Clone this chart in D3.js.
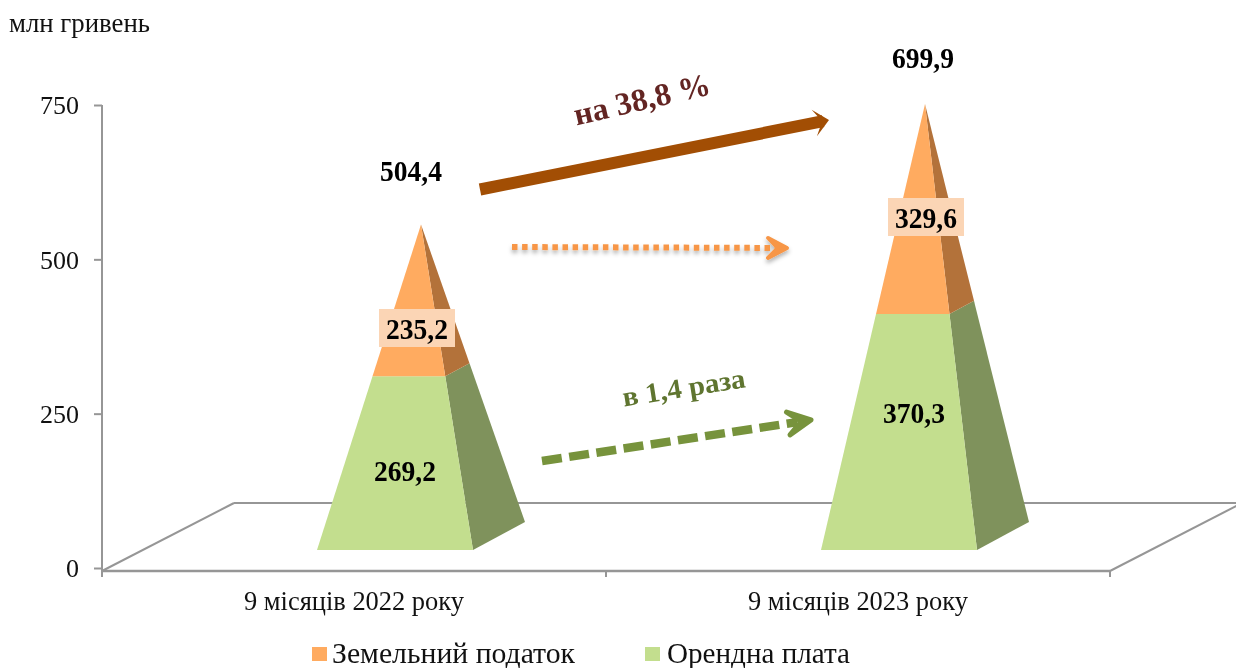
<!DOCTYPE html>
<html><head><meta charset="utf-8">
<script src="https://cdn.jsdelivr.net/npm/d3@7"></script>
<style>
html,body{margin:0;padding:0;background:#fff;}
svg{display:block;font-family:"Liberation Serif",serif;filter:blur(0.45px);}
</style></head><body><div id="c"></div>
<script>
const categories = ["9 місяців 2022 року","9 місяців 2023 року"];
const orendaValues = [269.2,370.3];
const zemelnyiValues = [235.2,329.6];
const totals = [504.4,699.9];
const yTicks = [0,250,500,750];
const seriesNames = ["Земельний податок","Орендна плата"];
const decimal = v => String(v.toFixed(1)).replace(".",",");

const W=1236,H=668;
const svg=d3.select("#c").append("svg").attr("width",W).attr("height",H);
const defs=svg.append("defs");
const f=defs.append("filter").attr("id","sh").attr("x","-10%").attr("y","-50%").attr("width","120%").attr("height","250%");
f.append("feDropShadow").attr("dx",0).attr("dy",3).attr("stdDeviation",2).attr("flood-color","#000").attr("flood-opacity",.3);

const x=d3.scaleBand().domain(categories).range([102,1110]);
const y=d3.scaleLinear().domain([0,750]).range([568,105]);
const grey="#969696";

// floor
const depthX=132, depthY=68, axisY=571;
const wall=svg.append("g").attr("fill","none").attr("stroke",grey);
wall.append("path").attr("stroke-width",2.2).attr("d",`M${x.range()[0]+depthX},${axisY-depthY}H${W}`);
wall.append("path").attr("stroke-width",2).attr("d",`M${x.range()[0]},${axisY}L${x.range()[0]+depthX},${axisY-depthY}`);
wall.append("path").attr("stroke-width",2).attr("d",`M${x.range()[1]},${axisY}L${x.range()[1]+depthX},${axisY-depthY}`);
wall.append("path").attr("stroke-width",2.4).attr("d",`M${x.range()[0]},${axisY}H${x.range()[1]}`);

// y axis
const yAxis=d3.axisLeft(y).tickValues(yTicks).tickSize(8).tickPadding(15).tickSizeOuter(0);
const gy=svg.append("g").attr("transform","translate(102,0)").call(yAxis);
gy.select(".domain").attr("stroke",grey).attr("stroke-width",2).attr("d",`M0,${y(750)}V${axisY+6}`);
gy.selectAll(".tick line").attr("stroke",grey).attr("stroke-width",2);
gy.selectAll("text").attr("font-size",26).attr("fill","#111").attr("font-family","Liberation Serif").attr("dy","0.34em");

// x axis
const xTickPos=[...categories.map(c=>x(c)),x.range()[1]];
svg.append("g").selectAll("line").data(xTickPos.slice(1)).join("line")
 .attr("x1",d=>d).attr("x2",d=>d).attr("y1",axisY).attr("y2",axisY+6).attr("stroke",grey).attr("stroke-width",2);
svg.append("g").selectAll("text").data(categories).join("text")
 .attr("x",c=>x(c)+x.bandwidth()/2).attr("y",610).attr("text-anchor","middle")
 .attr("font-size",27).attr("fill","#111").attr("textLength",220).attr("lengthAdjust","spacingAndGlyphs").text(c=>c);

// pyramids
const colors={orenda:{front:"#C3DE8E",side:"#7F925C"},zem:{front:"#FFAB60",side:"#B3723A"}};
const floorUp=32, halfW=104, halfD=14, skew=52;
const py=v=>y(v)-y(0);
function corners(cx,total,v){
  const s=1-v/total, cy=y(0)-floorUp+py(v);
  const X=d=>cx+d*s, Y=d=>cy+d*s;
  return {fl:[X(-halfW),Y(halfD)],fr:[X(skew),Y(halfD)],br:[X(halfW),Y(-halfD)]};
}
const path=pts=>"M"+pts.map(p=>p.join(",")).join("L")+"Z";
categories.forEach((c,i)=>{
  const cx=x(c)+x.bandwidth()/2+67, T=totals[i];
  const g=svg.append("g");
  const a=corners(cx,T,0), b=corners(cx,T,orendaValues[i]), t=corners(cx,T,T);
  g.append("path").attr("d",path([a.fr,a.br,b.br,b.fr])).attr("fill",colors.orenda.side);
  g.append("path").attr("d",path([a.fl,a.fr,b.fr,b.fl])).attr("fill",colors.orenda.front);
  g.append("path").attr("d",path([b.fr,b.br,t.br])).attr("fill",colors.zem.side);
  g.append("path").attr("d",path([b.fl,b.fr,t.fr])).attr("fill",colors.zem.front);
});

// value labels
const labelOffsets=[{tot:[-10,181],or:[-16,481],ze:[-4,339]},{tot:[-2,68],or:[-11,423],ze:[1,228]}];
categories.forEach((c,i)=>{
  const cx=x(c)+x.bandwidth()/2+67, o=labelOffsets[i];
  const lab=(off,v)=>svg.append("text").attr("x",cx+off[0]).attr("y",off[1]).attr("text-anchor","middle")
    .attr("font-size",29).attr("font-weight","bold").attr("fill","#000")
    .attr("textLength",62).attr("lengthAdjust","spacingAndGlyphs").text(decimal(v));
  lab(o.tot,totals[i]);
  lab(o.or,orendaValues[i]);
  svg.append("rect").attr("x",cx+o.ze[0]-38).attr("y",o.ze[1]-30).attr("width",76).attr("height",38).attr("fill","#FBD5B5");
  lab(o.ze,zemelnyiValues[i]);
});

// arrows: notched head drawn as a polygon in the arrow's direction
function frame(A,B){
  const a=Math.atan2(B[1]-A[1],B[0]-A[0]),u=[Math.cos(a),Math.sin(a)];
  return (back,side)=>[B[0]-u[0]*back-u[1]*side,B[1]-u[1]*back+u[0]*side];
}
function headPath(A,B,len,hw,notch){
  const p=frame(A,B);
  return path([p(0,0),p(len,hw),p(notch,0),p(len,-hw)]);
}
// solid brown
{const c="#A24E04",A=[480,189.5],B=[829,120],p=frame(A,B),e=p(6,0);
 svg.append("line").attr("x1",A[0]).attr("y1",A[1]).attr("x2",e[0]).attr("y2",e[1]).attr("stroke",c).attr("stroke-width",12);
 svg.append("path").attr("d",headPath(A,B,15,13.5,7)).attr("fill",c);
}
// dotted orange
{const c="#F79646",A=[512,247],B=[787,248],e=frame(A,B)(8,0);
 const g=svg.append("g").attr("filter","url(#sh)").attr("stroke",c);
 g.append("line").attr("x1",A[0]).attr("y1",A[1]).attr("x2",e[0]).attr("y2",e[1]).attr("stroke-width",6).attr("stroke-dasharray","5.5 4.6");
 g.append("path").attr("d",headPath(A,B,19,10,9)).attr("fill",c).attr("stroke-width",4).attr("stroke-linejoin","round");
}
// dashed green
{const c="#77933C",A=[542,461],B=[811,420],e=frame(A,B)(14,0);
 const g=svg.append("g").attr("stroke",c);
 g.append("line").attr("x1",A[0]).attr("y1",A[1]).attr("x2",e[0]).attr("y2",e[1]).attr("stroke-width",8.5).attr("stroke-dasharray","20 7.5");
 g.append("path").attr("d",headPath(A,B,23,11.5,10)).attr("fill",c).attr("stroke-width",5).attr("stroke-linejoin","round");
}
svg.append("text").attr("transform","translate(642,100) rotate(-13)").attr("text-anchor","middle").attr("dy",10)
 .attr("font-size",32).attr("font-weight","bold").attr("fill","#632523").attr("textLength",139).attr("lengthAdjust","spacingAndGlyphs").text("на 38,8 %");
svg.append("text").attr("transform","translate(684,389) rotate(-9)").attr("text-anchor","middle").attr("dy",8)
 .attr("font-size",28).attr("font-weight","bold").attr("fill","#5F7530").attr("textLength",124).attr("lengthAdjust","spacingAndGlyphs").text("в 1,4 раза");

// unit
svg.append("text").attr("x",9).attr("y",32).attr("font-size",27).attr("fill","#111").attr("textLength",141).attr("lengthAdjust","spacingAndGlyphs").text("млн гривень");

// legend
const legendItems=[{n:seriesNames[0],c:"#FFAB60",sx:312,tx:332,tw:243},{n:seriesNames[1],c:"#C3DE8E",sx:645,tx:667,tw:183}];
const lg=svg.append("g").selectAll("g").data(legendItems).join("g");
lg.append("rect").attr("x",d=>d.sx).attr("y",647).attr("width",15).attr("height",14).attr("fill",d=>d.c);
lg.append("text").attr("x",d=>d.tx).attr("y",663).attr("font-size",29).attr("fill","#111").attr("textLength",d=>d.tw).attr("lengthAdjust","spacingAndGlyphs").text(d=>d.n);
</script></body></html>
